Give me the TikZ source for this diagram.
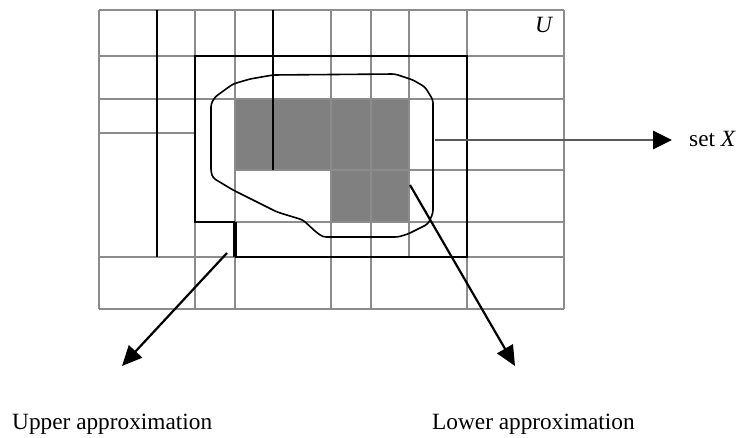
\documentclass[tikz,border=0pt]{standalone}
\usepackage{fontspec}
\setmainfont{Liberation Serif}
\usetikzlibrary{arrows.meta}
\definecolor{gridgray}{HTML}{8C8C8C}
\definecolor{shadegray}{HTML}{808080}
\definecolor{arrowgray}{HTML}{5A5A5A}
\begin{document}
\begin{tikzpicture}[x=1pt,y=-1pt,
  gridline/.style={draw=gridgray,line width=1.5pt},
  darkline/.style={draw=black,line width=1.6pt},
  upperline/.style={draw=black,line width=2.6pt},
  setcurve/.style={draw=black,line width=1.6pt,rounded corners=3pt},
  pointer/.style={draw=black,line width=2.2pt,-{Triangle[length=20pt,width=18pt]}},
  setpointer/.style={draw=arrowgray,line width=2.8pt,-{Triangle[length=19pt,width=18pt,fill=black,color=black]}},
  lab/.style={inner sep=0pt,font=\fontsize{23.3}{28}\selectfont}]
\useasboundingbox (0,0) rectangle (737,438);
% lower approximation (shaded cells)
\fill[shadegray] (235,99) rectangle (409,170);
\fill[shadegray] (331,170) rectangle (409,222);
% grid
\foreach \x/\a/\b in {99/10/309,195/10/309,235/10/309,331/10/309,371/10/309,409/10/257,467/10/309,564/10/309}
  \draw[gridline] (\x,\a) -- (\x,\b);
\foreach \y/\a/\b in {10/99/564,56/99/564,99/99/564,133/99/195,170/235/564,222/195/564,257/99/564,309/99/564}
  \draw[gridline] (\a,\y) -- (\b,\y);
\draw[darkline] (157,10) -- (157,257);
\draw[darkline] (273,10) -- (273,170);
% upper approximation
\draw[upperline] (235,222) -- (195,222) -- (195,56) -- (467,56) -- (467,257) -- (235,257);
\draw[draw=black,line width=4pt] (235,222) -- (235,257);
% set X
\draw[setcurve] (211,104) -- (215,97) -- (233,84) -- (250,79) -- (273,75) -- (395,74) -- (413,80) -- (425,87) -- (433,100)
  -- (433,213) -- (428,224) -- (408,234) -- (398,237) -- (323,237) -- (316,232) -- (303,220) -- (277,212)
  -- (233,190) -- (213,178) -- (211,172) -- cycle;
% labels
\node[lab,anchor=base west] (U) at (535,33) {\textit{U}};
\node[lab,anchor=base west] (setx) at (689,147) {set \textit{X}};
\node[lab,anchor=base west] (upper) at (12,430) {Upper approximation};
\node[lab,anchor=base west] (lower) at (432,430) {Lower approximation};
% arrows
\coordinate (xs) at (435,140);
\coordinate (xt) at (672,140);
\draw[setpointer] (xs) -- (xt);
\coordinate (us) at (227,253);
\coordinate (ut) at (122,366);
\draw[pointer] (us) -- (ut);
\coordinate (ls) at (410,185);
\coordinate (lt) at (515,366);
\draw[pointer] (ls) -- (lt);
\end{tikzpicture}
\end{document}
